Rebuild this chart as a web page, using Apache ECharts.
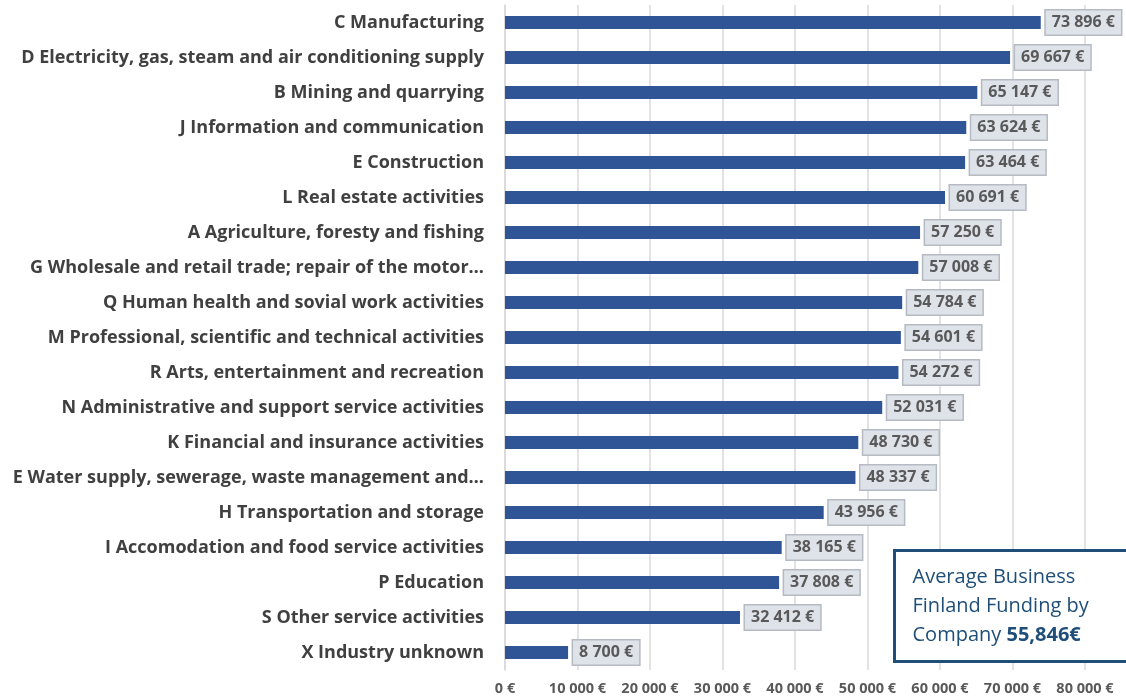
<!DOCTYPE html>
<html>
<head>
<meta charset="utf-8">
<script src="https://cdn.jsdelivr.net/npm/echarts@6/dist/echarts.min.js"></script>
<style>
  html, body { margin: 0; padding: 0; background: #ffffff; }
  #chart { width: 1126px; height: 697px; }
</style>
</head>
<body>
<div id="chart"></div>
<script>
// Industries, ordered top to bottom
const industries = [
  'C Manufacturing',
  'D Electricity, gas, steam and air conditioning supply',
  'B Mining and quarrying',
  'J Information and communication',
  'E Construction',
  'L Real estate activities',
  'A Agriculture, foresty and fishing',
  'G Wholesale and retail trade; repair of the motor\u2026',
  'Q Human health and sovial work activities',
  'M Professional, scientific and technical activities',
  'R Arts, entertainment and recreation',
  'N Administrative and support service activities',
  'K Financial and insurance activities',
  'E Water supply, sewerage, waste management and\u2026',
  'H Transportation and storage',
  'I Accomodation and food service activities',
  'P Education',
  'S Other service activities',
  'X Industry unknown'
];

// Average funding per company (€)
const funding = [
  73896, 69667, 65147, 63624, 63464, 60691, 57250, 57008, 54784,
  54601, 54272, 52031, 48730, 48337, 43956, 38165, 37808, 32412, 8700
];

// Value axis range
const axisMin = 0;
const axisMax = 80000;
const axisStep = 10000;

// Callout text
const calloutLines = ['Average Business', 'Finland Funding by'];
const calloutPrefix = 'Company ';
const calloutValue = '55,846\u20ac';

function euro(v) {
  return String(Math.round(v)).replace(/\B(?=(\d{3})+(?!\d))/g, ' ') + ' \u20ac';
}

const chart = echarts.init(document.getElementById('chart'), null, { renderer: 'canvas' });

chart.setOption({
  animation: false,
  backgroundColor: '#ffffff',
  grid: { left: 505, right: 41, top: 5, bottom: 27, containLabel: false },
  xAxis: {
    type: 'value',
    min: axisMin,
    max: axisMax,
    interval: axisStep,
    axisLine: { show: false },
    axisTick: { show: false },
    splitLine: { show: true, lineStyle: { color: '#d9d9d9', width: 1.5 } },
    axisLabel: {
      formatter: euro,
      color: '#595959',
      fontFamily: 'Open Sans',
      fontWeight: 'bold',
      fontSize: 14.5,
      margin: 11
    }
  },
  yAxis: {
    type: 'category',
    data: industries,
    inverse: true,
    axisLine: { show: true, lineStyle: { color: '#d9d9d9', width: 1.5 } },
    axisTick: { show: false },
    axisLabel: {
      color: '#404040',
      fontFamily: 'Open Sans',
      fontWeight: 'bold',
      fontSize: 18,
      margin: 21
    }
  },
  series: [{
    type: 'bar',
    data: funding,
    barWidth: 13,
    itemStyle: { color: '#2f5597' },
    label: {
      show: true,
      position: 'right',
      distance: 5,
      formatter: p => euro(p.value),
      color: '#595959',
      fontFamily: 'Open Sans',
      fontWeight: 'bold',
      fontSize: 16,
      lineHeight: 18,
      backgroundColor: '#dee2e9',
      borderColor: '#b6bac2',
      borderWidth: 1.5,
      padding: [3, 6, 3, 6]
    }
  }],
  graphic: [{
    type: 'group',
    left: 893,
    top: 549,
    z: 100,
    children: [
      {
        type: 'rect',
        z: 100,
        shape: { x: 0, y: 0, width: 250, height: 111 },
        style: { fill: '#ffffff', stroke: '#1f4e79', lineWidth: 3 }
      },
      {
        type: 'text',
        z: 101,
        x: 18,
        y: 12,
        style: {
          text: calloutLines.join('\n') + '\n{n|' + calloutPrefix + '}{b|' + calloutValue + '}',
          fill: '#1f4e79',
          fontFamily: 'Open Sans',
          fontSize: 20,
          lineHeight: 29,
          rich: {
            n: { fontFamily: 'Open Sans', fontSize: 20, fill: '#1f4e79', lineHeight: 29 },
            b: { fontFamily: 'Open Sans', fontSize: 20, fontWeight: 'bold', fill: '#1f4e79', lineHeight: 29 }
          }
        }
      }
    ]
  }]
});
</script>
</body>
</html>
